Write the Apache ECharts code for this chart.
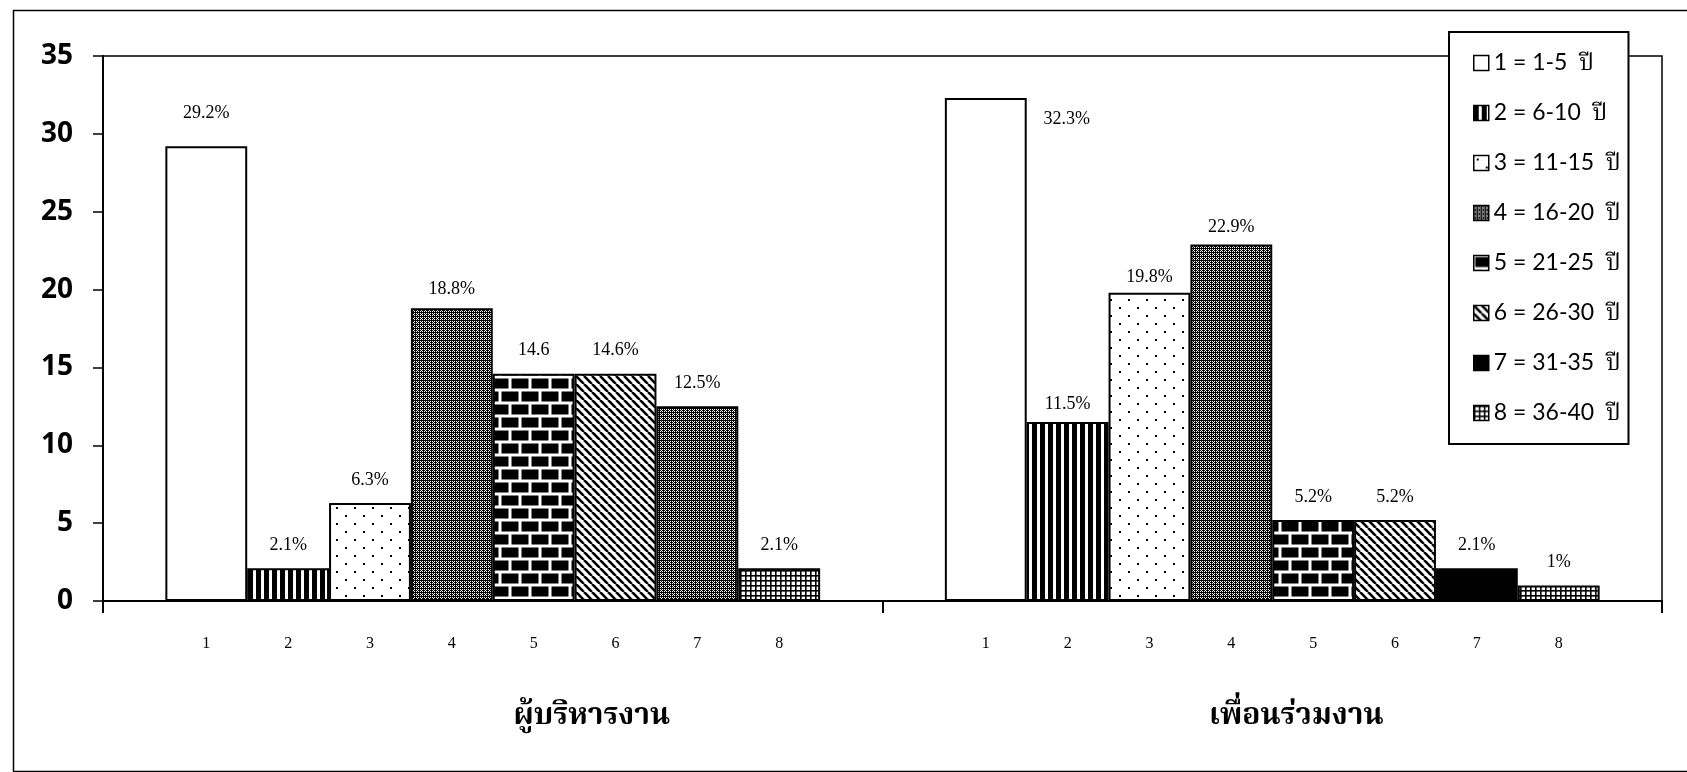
<!DOCTYPE html>
<html>
<head>
<meta charset="utf-8">
<script src="https://cdn.jsdelivr.net/npm/echarts@6/dist/echarts.min.js"></script>
<style>
    html, body { margin: 0; padding: 0; background: #fff; }
    #chart { width: 1687px; height: 772px; }
</style>
</head>
<body>
<div id="chart"></div>
<script>
// two groups on the x axis, 8 year ranges per group
const groups = ["ผู้บริหารงาน", "เพื่อนร่วมงาน"];
const yearRanges = [
    "1 = 1-5  ปี",
    "2 = 6-10  ปี",
    "3 = 11-15  ปี",
    "4 = 16-20  ปี",
    "5 = 21-25  ปี",
    "6 = 26-30  ปี",
    "7 = 31-35  ปี",
    "8 = 36-40  ปี"
];
const barNumbers = ["1", "2", "3", "4", "5", "6", "7", "8"];
const managerPct = [29.2, 2.1, 6.3, 18.8, 14.6, 14.6, 12.5, 2.1];
const colleaguePct = [32.3, 11.5, 19.8, 22.9, 5.2, 5.2, 2.1, 1.0];
const managerLabels = ["29.2%", "2.1%", "6.3%", "18.8%", "14.6", "14.6%", "12.5%", "2.1%"];
const colleagueLabels = ["32.3%", "11.5%", "19.8%", "22.9%", "5.2%", "5.2%", "2.1%", "1%"];

// small vertical nudges of the value labels, as printed in the original
const managerNudge = [-10, 0, 0, 4, 0, 0, 0, 0];
const colleagueNudge = [0, 5, 8, 6, 0, 0, 0, 0];

// --- fill patterns (drawn on small canvases) ---
const makeTile = (w, h, draw) => {
    const c = document.createElement("canvas");
    c.width = w;
    c.height = h;
    const ctx = c.getContext("2d");
    ctx.fillStyle = "#fff";
    ctx.fillRect(0, 0, w, h);
    ctx.fillStyle = "#000";
    ctx.strokeStyle = "#000";
    draw(ctx);
    return { image: c, repeat: "repeat" };
};

const bayer = [
    [0, 8, 2, 10],
    [12, 4, 14, 6],
    [3, 11, 1, 9],
    [15, 7, 13, 5]
];

const patterns = [
    "#fff",
    // vertical stripes
    makeTile(8, 8, ctx => ctx.fillRect(0, 0, 5, 8)),
    // sparse dots
    makeTile(18, 16, ctx => {
        ctx.fillRect(3, 3, 2, 2);
        ctx.fillRect(12, 11, 2, 2);
    }),
    // dark dither
    makeTile(4, 4, ctx => {
        for (let y = 0; y < 4; y++) {
            for (let x = 0; x < 4; x++) {
                if (bayer[y][x] < 11) ctx.fillRect(x, y, 1, 1);
            }
        }
    }),
    // bricks
    makeTile(20, 26, ctx => {
        ctx.fillRect(1.5, 1.5, 17, 10);
        ctx.fillRect(11.5, 14.5, 17, 10);
        ctx.fillRect(-8.5, 14.5, 17, 10);
    }),
    // diagonal "\" lines
    makeTile(8, 8, ctx => {
        ctx.lineWidth = 2.6;
        for (let k = -1; k <= 1; k++) {
            ctx.beginPath();
            ctx.moveTo(k * 8, 0);
            ctx.lineTo(k * 8 + 8, 8);
            ctx.stroke();
        }
    }),
    "#000",
    // small grid
    makeTile(5, 5, ctx => {
        ctx.fillRect(0, 0, 5, 1.6);
        ctx.fillRect(0, 0, 1.6, 5);
    })
];

const serifFont = "'Liberation Serif', 'Times New Roman', serif";
const thaiFont = "'Noto Serif Thai', 'Noto Sans Thai', 'Loma', 'Garuda', serif";

const series = [];
yearRanges.forEach((name, i) => {
    // zero-height helper series that carries the 1..8 number under each bar
    series.push({
        name: "n" + i,
        type: "bar",
        stack: "s" + i,
        silent: true,
        data: [0, 0],
        itemStyle: { color: "transparent", borderWidth: 0 },
        label: {
            show: true,
            position: "bottom",
            distance: 35,
            formatter: barNumbers[i],
            color: "#000",
            fontFamily: serifFont,
            fontSize: 16
        }
    });

    const g1 = { value: managerPct[i], label: { offset: [0, managerNudge[i]] } };
    const g2 = { value: colleaguePct[i], label: { offset: [0, colleagueNudge[i]] } };
    if (i === 6) {
        // left group bar 7 is printed grey, not solid black
        g1.itemStyle = { color: patterns[3] };
    }
    if (i === 0) {
        // label of the tallest bar sits to its right
        g2.label = { offset: [81, 44] };
    }

    series.push({
        name: name,
        type: "bar",
        stack: "s" + i,
        barGap: "0%",
        barCategoryGap: "16%",
        data: [g1, g2],
        itemStyle: {
            color: patterns[i],
            borderColor: "#000",
            borderWidth: 2
        },
        label: {
            show: true,
            position: "top",
            distance: 14,
            color: "#000",
            fontFamily: serifFont,
            fontSize: 18,
            formatter: p => (p.dataIndex === 0 ? managerLabels : colleagueLabels)[i]
        }
    });
});

const chart = echarts.init(document.getElementById("chart"), null, { renderer: "canvas" });

const option = {
    animation: false,
    backgroundColor: "#fff",
    graphic: [
        {
            type: "rect",
            left: 11,
            top: 8,
            shape: { width: 1700, height: 761 },
            style: { fill: "none", stroke: "#000", lineWidth: 1.5 },
            silent: true
        }
    ],
    grid: {
        left: 103,
        right: 25,
        top: 56,
        bottom: 171,
        show: true,
        borderColor: "#000",
        borderWidth: 1.5
    },
    legend: {
        data: yearRanges,
        orient: "vertical",
        left: 1449,
        top: 32,
        padding: [18, 8, 18, 24],
        itemGap: 24,
        itemWidth: 15,
        itemHeight: 15,
        itemStyle: { borderColor: "#000", borderWidth: 1.5 },
        icon: "rect",
        backgroundColor: "#fff",
        borderColor: "#000",
        borderWidth: 2,
        textStyle: {
            color: "#000",
            fontFamily: "Lato, " + thaiFont,
            fontSize: 23,
            lineHeight: 26
        }
    },
    xAxis: {
        type: "category",
        data: groups,
        axisLine: { lineStyle: { color: "#000", width: 2 } },
        axisTick: { show: true, length: 12, lineStyle: { color: "#000", width: 2 } },
        axisLabel: {
            margin: 103,
            formatter: (v, idx) => "{g" + idx + "|" + v + "}",
            rich: {
                g0: {
                    padding: [0, 0, 0, 198],
                    fontFamily: thaiFont,
                    fontWeight: "bold",
                    fontSize: 30,
                    color: "#000"
                },
                g1: {
                    padding: [0, 0, 0, 48],
                    fontFamily: thaiFont,
                    fontWeight: "bold",
                    fontSize: 30,
                    color: "#000"
                }
            }
        }
    },
    yAxis: {
        type: "value",
        min: 0,
        max: 35,
        interval: 5,
        splitLine: { show: false },
        axisLine: { show: true, lineStyle: { color: "#000", width: 2 } },
        axisTick: { show: true, length: 10, lineStyle: { color: "#000", width: 1.5 } },
        axisLabel: {
            margin: 30,
            color: "#000",
            fontFamily: "'Open Sans', 'Liberation Sans', sans-serif",
            fontWeight: "bold",
            fontSize: 28
        }
    },
    series: series
};

chart.setOption(option);
</script>
</body>
</html>
